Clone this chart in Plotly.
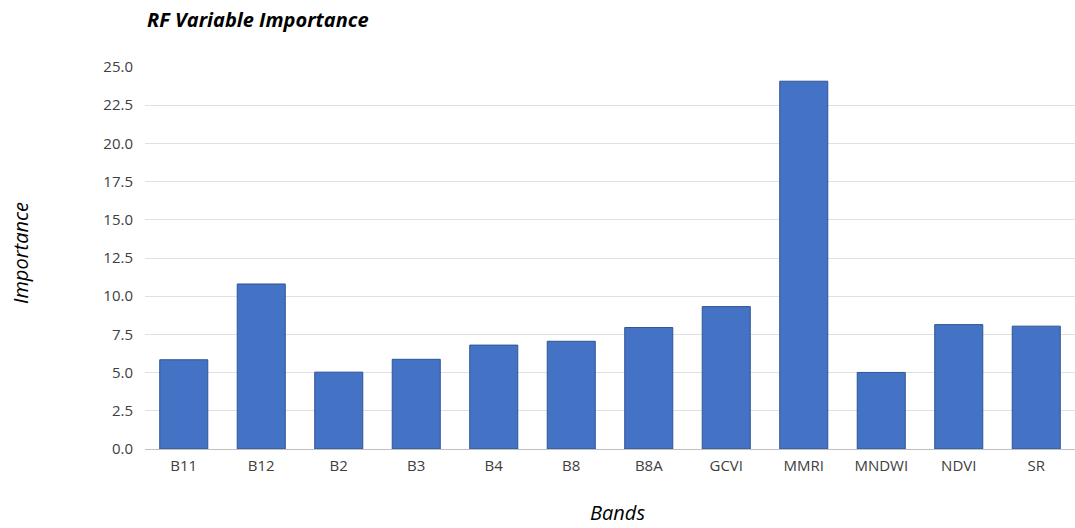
import plotly.graph_objects as go

bands = ["B11", "B12", "B2", "B3", "B4", "B8", "B8A", "GCVI", "MMRI", "MNDWI", "NDVI", "SR"]
importance = [5.84, 10.8, 5.03, 5.87, 6.8, 7.05, 7.95, 9.32, 24.07, 5.01, 8.14, 8.04]
y_ticks = [0, 2.5, 5, 7.5, 10, 12.5, 15, 17.5, 20, 22.5, 25]
y_tick_labels = ["0.0", "2.5", "5.0", "7.5", "10.0", "12.5", "15.0", "17.5", "20.0", "22.5", "25.0"]

W, H = 1075, 528
ML, MR, MT, MB = 145, 0, 67, 79
PW, PH = W - ML - MR, H - MT - MB
font_family = "Open Sans, Noto Sans, sans-serif"

fig = go.Figure(
    go.Bar(
        x=bands,
        y=importance,
        marker=dict(color="#4472C4", line=dict(color="#2F5597", width=1)),
    )
)

fig.update_layout(
    width=W,
    height=H,
    margin=dict(l=ML, r=MR, t=MT, b=MB),
    paper_bgcolor="white",
    plot_bgcolor="white",
    bargap=0.38,
    showlegend=False,
    font=dict(family=font_family, color="#404040", size=15),
    xaxis=dict(
        showgrid=False,
        showline=True,
        linecolor="#BFBFBF",
        linewidth=1,
        ticks="",
        tickfont=dict(size=15, color="#404040"),
        ticklabelstandoff=3,
    ),
    yaxis=dict(
        range=[0, 25],
        tickvals=y_ticks,
        ticktext=y_tick_labels,
        showgrid=True,
        gridcolor="#E0E0E0",
        gridwidth=1,
        zeroline=False,
        showline=False,
        ticks="",
        tickfont=dict(size=15, color="#404040"),
        ticklabelstandoff=11,
    ),
    annotations=[
        dict(
            text="<b><i>RF Variable Importance</i></b>",
            xref="paper", yref="paper",
            x=0, y=1 + (MT - 20) / PH,
            xanchor="left", yanchor="middle",
            showarrow=False,
            font=dict(size=20, color="#000000", family=font_family),
        ),
        dict(
            text="<i>Importance</i>",
            xref="paper", yref="paper",
            x=-(ML - 20) / PW, y=(H - MB - 253) / PH,
            xanchor="center", yanchor="middle",
            textangle=-90,
            showarrow=False,
            font=dict(size=20, color="#000000", family=font_family),
        ),
        dict(
            text="<i>Bands</i>",
            xref="paper", yref="paper",
            x=(617 - ML) / PW, y=-(512 - (H - MB)) / PH,
            xanchor="center", yanchor="middle",
            showarrow=False,
            font=dict(size=20, color="#000000", family=font_family),
        ),
    ],
)

fig.write_html("out.html")
